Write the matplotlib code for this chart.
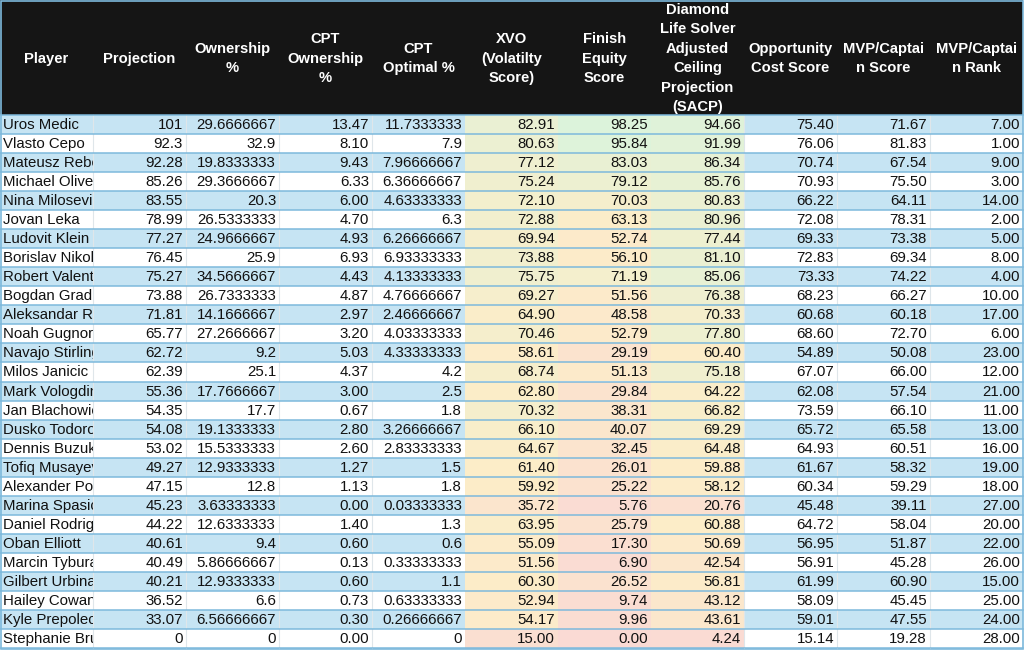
import numpy as np
import matplotlib
matplotlib.use("Agg")
import matplotlib.pyplot as plt
from matplotlib.patches import Rectangle
from matplotlib.transforms import Bbox, TransformedBbox

plt.rcParams['font.family'] = ['Liberation Sans', 'DejaVu Sans']

# ---------------- data ----------------
headers = ["Player", "Projection", "Ownership\n%", "CPT\nOwnership\n%", "CPT\nOptimal %",
           "XVO\n(Volatilty\nScore)", "Finish\nEquity\nScore",
           "Diamond\nLife Solver\nAdjusted\nCeiling\nProjection\n(SACP)",
           "Opportunity\nCost Score", "MVP/Captai\nn Score", "MVP/Captai\nn Rank"]

players = ["Uros Medic", "Vlasto Cepo", "Mateusz Rebecki", "Michael Oliveira", "Nina Milosevic",
           "Jovan Leka", "Ludovit Klein", "Borislav Nikolic", "Robert Valentin", "Bogdan Grad",
           "Aleksandar Rakic", "Noah Gugnor", "Navajo Stirling", "Milos Janicic", "Mark Vologdin",
           "Jan Blachowicz", "Dusko Todorovic", "Dennis Buzukja", "Tofiq Musayev", "Alexander Poppeck",
           "Marina Spasic", "Daniel Rodriguez", "Oban Elliott", "Marcin Tybura", "Gilbert Urbina",
           "Hailey Cowan", "Kyle Prepolec", "Stephanie Bruns"]

projection = [101, 92.3, 92.28, 85.26, 83.55, 78.99, 77.27, 76.45, 75.27, 73.88, 71.81, 65.77,
              62.72, 62.39, 55.36, 54.35, 54.08, 53.02, 49.27, 47.15, 45.23, 44.22, 40.61, 40.49,
              40.21, 36.52, 33.07, 0]
ownership = [29.6666667, 32.9, 19.8333333, 29.3666667, 20.3, 26.5333333, 24.9666667, 25.9,
             34.5666667, 26.7333333, 14.1666667, 27.2666667, 9.2, 25.1, 17.7666667, 17.7,
             19.1333333, 15.5333333, 12.9333333, 12.8, 3.63333333, 12.6333333, 9.4, 5.86666667,
             12.9333333, 6.6, 6.56666667, 0]
cpt_ownership = [13.47, 8.10, 9.43, 6.33, 6.00, 4.70, 4.93, 6.93, 4.43, 4.87, 2.97, 3.20, 5.03,
                 4.37, 3.00, 0.67, 2.80, 2.60, 1.27, 1.13, 0.00, 1.40, 0.60, 0.13, 0.60, 0.73,
                 0.30, 0.00]
cpt_optimal = [11.7333333, 7.9, 7.96666667, 6.36666667, 4.63333333, 6.3, 6.26666667, 6.93333333,
               4.13333333, 4.76666667, 2.46666667, 4.03333333, 4.33333333, 4.2, 2.5, 1.8,
               3.26666667, 2.83333333, 1.5, 1.8, 0.03333333, 1.3, 0.6, 0.33333333, 1.1,
               0.63333333, 0.26666667, 0]
xvo = [82.91, 80.63, 77.12, 75.24, 72.10, 72.88, 69.94, 73.88, 75.75, 69.27, 64.90, 70.46, 58.61,
       68.74, 62.80, 70.32, 66.10, 64.67, 61.40, 59.92, 35.72, 63.95, 55.09, 51.56, 60.30, 52.94,
       54.17, 15.00]
finish_equity = [98.25, 95.84, 83.03, 79.12, 70.03, 63.13, 52.74, 56.10, 71.19, 51.56, 48.58,
                 52.79, 29.19, 51.13, 29.84, 38.31, 40.07, 32.45, 26.01, 25.22, 5.76, 25.79, 17.30,
                 6.90, 26.52, 9.74, 9.96, 0.00]
sacp = [94.66, 91.99, 86.34, 85.76, 80.83, 80.96, 77.44, 81.10, 85.06, 76.38, 70.33, 77.80, 60.40,
        75.18, 64.22, 66.82, 69.29, 64.48, 59.88, 58.12, 20.76, 60.88, 50.69, 42.54, 56.81, 43.12,
        43.61, 4.24]
opportunity = [75.40, 76.06, 70.74, 70.93, 66.22, 72.08, 69.33, 72.83, 73.33, 68.23, 60.68, 68.60,
               54.89, 67.07, 62.08, 73.59, 65.72, 64.93, 61.67, 60.34, 45.48, 64.72, 56.95, 56.91,
               61.99, 58.09, 59.01, 15.14]
mvp_score = [71.67, 81.83, 67.54, 75.50, 64.11, 78.31, 73.38, 69.34, 74.22, 66.27, 60.18, 72.70,
             50.08, 66.00, 57.54, 66.10, 65.58, 60.51, 58.32, 59.29, 39.11, 58.04, 51.87, 45.28,
             60.90, 45.45, 47.55, 19.28]
mvp_rank = [7, 1, 9, 3, 14, 2, 5, 8, 4, 10, 17, 6, 23, 12, 21, 11, 13, 16, 19, 18, 27, 20, 22, 26,
            15, 25, 24, 28]

columns = [players, projection, ownership, cpt_ownership, cpt_optimal, xvo, finish_equity, sacp,
           opportunity, mvp_score, mvp_rank]
formats = [None, "general", "general", "2f", "general", "2f", "2f", "2f", "2f", "2f", "2f"]
scale_cols = [5, 6, 7]

# ---------------- layout ----------------
W, H = 1024, 650
col_w = 93.0
header_h = 115.0
n_rows = len(players)
row_h = (648.0 - header_h) / n_rows
body_fs = 10.8
head_fs = 10.6

header_bg = "#151515"
band_blue = "#c6e4f3"
grid_blue = "#7db9dc"
vline_col = "#dfe6ea"

c_low = np.array([250, 218, 212]) / 255
c_mid = np.array([252, 237, 200]) / 255
c_high = np.array([220, 243, 219]) / 255

all_scale = np.concatenate([np.array(columns[c], float) for c in scale_cols])
s_min, s_max, s_mid = all_scale.min(), all_scale.max(), np.percentile(all_scale, 50)


def scale_color(v):
    if v <= s_mid:
        t = (v - s_min) / (s_mid - s_min)
        return c_low + (c_mid - c_low) * t
    t = (v - s_mid) / (s_max - s_mid)
    return c_mid + (c_high - c_mid) * t


def fmt(v, kind):
    if kind == "2f":
        return f"{v:.2f}"
    return format(v, ".9g")


fig = plt.figure(figsize=(W / 100, H / 100), dpi=100)
ax = fig.add_axes([0, 0, 1, 1])
ax.set_xlim(0, W)
ax.set_ylim(H, 0)
ax.axis("off")

# header
ax.add_patch(Rectangle((0, 0), col_w * len(columns), header_h, facecolor=header_bg, edgecolor="none"))
for j, h in enumerate(headers):
    ax.text(col_w * j + col_w / 2, header_h / 2 + 1, h, color="white", fontsize=head_fs,
            fontweight="bold", ha="center", va="center", linespacing=1.5)

# body
for i in range(n_rows):
    y0 = header_h + i * row_h
    band = band_blue if i % 2 == 0 else "white"
    for j, col in enumerate(columns):
        x0 = col_w * j
        fc = scale_color(col[i]) if j in scale_cols else band
        rect = Rectangle((x0, y0), col_w, row_h, facecolor=fc, edgecolor="none")
        ax.add_patch(rect)
        if j not in scale_cols and j > 0:
            ax.plot([x0, x0], [y0, y0 + row_h], color=vline_col, lw=0.8)
        if j == 0:
            t = ax.text(x0 + 3, y0 + row_h / 2 + 0.5, col[i], fontsize=body_fs, ha="left",
                        va="center", color="#111111")
            t.set_clip_box(TransformedBbox(Bbox.from_extents(x0, y0, x0 + col_w, y0 + row_h),
                                           ax.transData))
            t.set_clip_on(True)
        else:
            ax.text(x0 + col_w - 3, y0 + row_h / 2 + 0.5, fmt(col[i], formats[j]), fontsize=body_fs,
                    ha="right", va="center", color="#111111")
    ax.plot([0, col_w * len(columns)], [y0, y0], color=grid_blue, lw=1.1)
ax.plot([0, col_w * len(columns)], [header_h + n_rows * row_h] * 2, color=grid_blue, lw=1.1)

# outer border
ax.add_patch(Rectangle((0.5, 0.5), W - 1.5, H - 1.5, facecolor="none", edgecolor=grid_blue, lw=1.2))

fig.savefig("out.png", dpi=100)
